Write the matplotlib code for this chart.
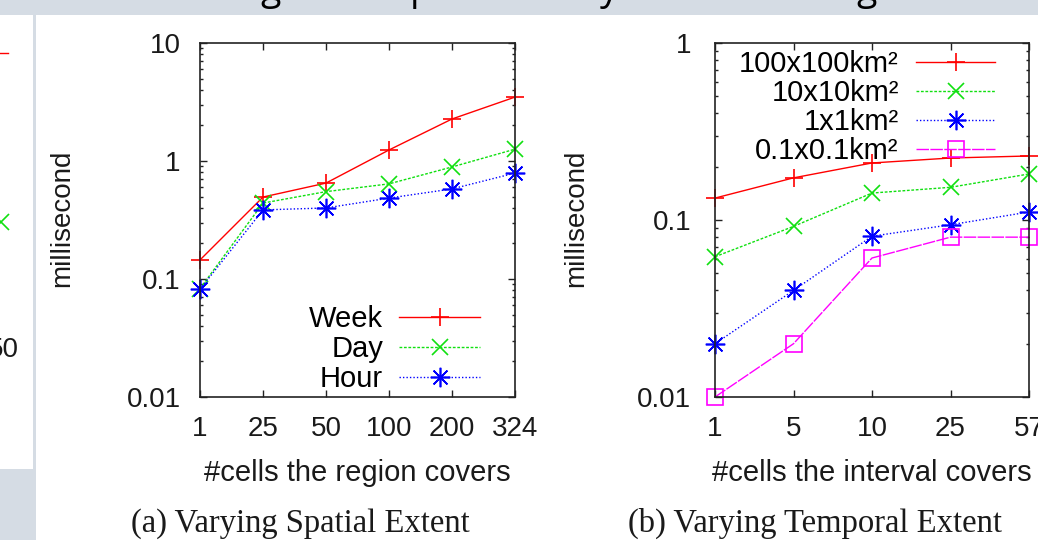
import matplotlib
matplotlib.use('Agg')
import matplotlib.pyplot as plt
from matplotlib.ticker import LogLocator, NullFormatter, NullLocator, FixedLocator, FixedFormatter

# ---------------- data ----------------
spatial_labels = ['1', '25', '50', '100', '200', '324']
week = [0.145, 0.495, 0.65, 1.24, 2.27, 3.48]
day = [0.083, 0.44, 0.55, 0.64, 0.89, 1.26]
hour = [0.082, 0.385, 0.40, 0.485, 0.58, 0.79]
spatial_series = ['Week', 'Day', 'Hour']

temporal_labels = ['1', '5', '10', '25', '57']
r100 = [0.133, 0.173, 0.21, 0.224, 0.23]
r10 = [0.062, 0.092, 0.142, 0.153, 0.182]
r1 = [0.020, 0.040, 0.081, 0.094, 0.111]
r01 = [0.010, 0.020, 0.061, 0.080, 0.080]
temporal_series = ['100x100km\u00b2', '10x10km\u00b2', '1x1km\u00b2', '0.1x0.1km\u00b2']

left_yticks = [0.01, 0.1, 1, 10]
left_yticklabels = ['0.01', '0.1', '1', '10']
right_yticks = [0.01, 0.1, 1]
right_yticklabels = ['0.01', '0.1', '1']

# ---------------- style ----------------
W, H = 1038, 540
SANS = ['Liberation Sans', 'DejaVu Sans']
SERIF = ['Liberation Serif', 'DejaVu Serif']
plt.rcParams['font.family'] = SANS
GRAY = '#d5dce4'
TXT = '#1a1a1a'

styles = [
    dict(color='#ff0000', ls='-', marker='+', ms=13, mew=1.2),
    dict(color='#10e010', ls=(0, (2, 1.2)), marker='x', ms=12, mew=1.2),
    dict(color='#0000ff', ls=(0, (1, 1.5)), marker=(8, 2, 0), ms=14, mew=1.2),
    dict(color='#ff00ff', ls=(0, (9, 1)), marker='s', ms=11, mew=1.2, mfc='none'),
]

fig = plt.figure(figsize=(W / 100, H / 100), dpi=100)


def ax_px(x0, y0, x1, y1, **kw):
    return fig.add_axes([x0 / W, 1 - y1 / H, (x1 - x0) / W, (y1 - y0) / H], **kw)


# background / page decorations
bg = fig.add_axes([0, 0, 1, 1], zorder=-5)
bg.set_xlim(0, W)
bg.set_ylim(H, 0)
bg.axis('off')
bg.add_patch(plt.Rectangle((0, 0), W, 15, color=GRAY, lw=0))
bg.add_patch(plt.Rectangle((33, 15), 3, H, color=GRAY, lw=0))
bg.add_patch(plt.Rectangle((0, 469), 36, H, color=GRAY, lw=0))
for ch, xc in [('g', 271), ('p', 421), ('y', 609), ('g', 867)]:
    bg.text(xc, 0, ch, fontsize=27, ha='center', va='baseline', color='black',
            family=['Open Sans', 'DejaVu Sans'])
bg.plot([0, 8], [53, 53], color='#ff0000', lw=1)
bg.plot([1], [222], marker='x', ms=12, mew=1.2, color='#10e010')
bg.text(19, 350, '50', fontsize=20, ha='right', va='center', color=TXT)


def style_axes(ax, ncat, yticks, yticklabels, ylim, ypad):
    ax.set_facecolor('none')
    ax.set_yscale('log')
    ax.set_ylim(*ylim)
    ax.set_xlim(0, ncat - 1)
    ax.yaxis.set_major_locator(FixedLocator(yticks))
    ax.yaxis.set_major_formatter(FixedFormatter(yticklabels))
    ax.yaxis.set_minor_locator(LogLocator(base=10, subs=range(2, 10)))
    ax.yaxis.set_minor_formatter(NullFormatter())
    ax.xaxis.set_minor_locator(NullLocator())
    ax.tick_params(which='both', direction='in', top=True, right=True,
                   width=1, color='#222222', labelcolor=TXT, labelsize=20)
    ax.tick_params(which='major', length=5)
    ax.tick_params(which='minor', length=2.5)
    ax.tick_params(axis='y', pad=ypad)
    ax.tick_params(axis='x', pad=14)
    for s in ax.spines.values():
        s.set_linewidth(1.2)
        s.set_color('#222222')


# ---------------- panel (a) ----------------
axa = ax_px(200, 43, 515, 397, zorder=2)
xa = list(range(len(spatial_labels)))
for vals, name, st in zip([week, day, hour], spatial_series, styles):
    axa.plot(xa, vals, label=name, lw=1.0, clip_on=False, **st)
axa.set_xticks(xa)
axa.set_xticklabels(spatial_labels)
style_axes(axa, len(xa), left_yticks, left_yticklabels, (0.01, 10), 14)
axa.legend(loc='center right', bbox_to_anchor=(480 / W, 1 - 349 / H),
           bbox_transform=fig.transFigure, frameon=False, markerfirst=False,
           handlelength=2.77, handletextpad=0.55, labelspacing=0.06,
           borderpad=0, borderaxespad=0, fontsize=21)

# ---------------- panel (b) ----------------
axb = ax_px(715, 43, 1029, 397, zorder=2)
xb = list(range(len(temporal_labels)))
for vals, name, st in zip([r100, r10, r1, r01], temporal_series, styles):
    axb.plot(xb, vals, label=name, lw=1.0, clip_on=False, **st)
axb.set_xticks(xb)
axb.set_xticklabels(temporal_labels)
style_axes(axb, len(xb), right_yticks, right_yticklabels, (0.01, 1), 17)
axb.legend(loc='center right', bbox_to_anchor=(995 / W, 1 - 107.5 / H),
           bbox_transform=fig.transFigure, frameon=False, markerfirst=False,
           handlelength=2.7, handletextpad=0.6, labelspacing=0.04,
           borderpad=0, borderaxespad=0, fontsize=21)

# ---------------- labels ----------------
bg.text(62, 218, 'millisecond', rotation=90, fontsize=20, ha='center', va='center', color=TXT)
bg.text(576, 218, 'millisecond', rotation=90, fontsize=20, ha='center', va='center', color=TXT)
bg.text(357, 481, '#cells the region covers', fontsize=21, ha='center', va='baseline', color=TXT)
bg.text(872, 481, '#cells the interval covers', fontsize=21, ha='center', va='baseline', color=TXT)
bg.text(300, 532, '(a) Varying Spatial Extent', fontsize=23.5, ha='center', va='baseline',
        color=TXT, family=SERIF)
bg.text(815, 532, '(b) Varying Temporal Extent', fontsize=23.5, ha='center', va='baseline',
        color=TXT, family=SERIF)

fig.savefig('out.png', dpi=100)
